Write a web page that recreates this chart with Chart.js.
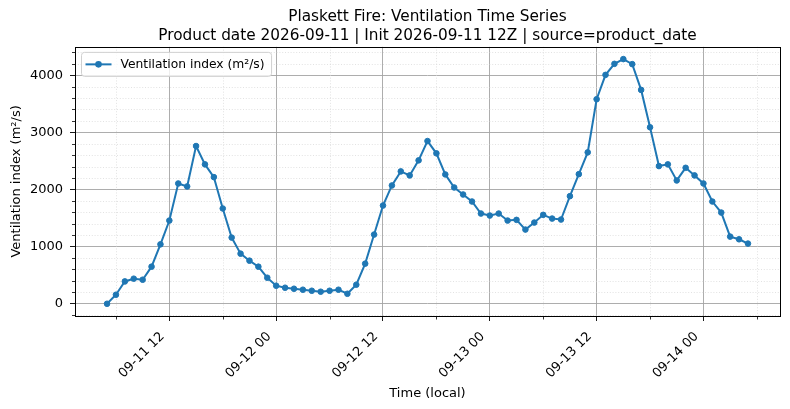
<!DOCTYPE html>
<html>
<head>
<meta charset="utf-8">
<script src="https://cdn.jsdelivr.net/npm/chart.js@4.4.1/dist/chart.umd.min.js"></script>
<style>
  html, body { margin: 0; padding: 0; background: #fff; }
  canvas { display: block; }
</style>
</head>
<body>
<canvas id="ventCanvas" width="790" height="409"></canvas>
<script>
const chartTitle = [
  "Plaskett Fire: Ventilation Time Series",
  "Product date 2026-09-11 | Init 2026-09-11 12Z | source=product_date",
];
const seriesLabel = "Ventilation index (m²/s)";

// hourly values, 09-11 05:00 -> 09-14 05:00 (local)
const ventilation = [
  0, 158, 391, 439, 421, 649, 1040, 1456, 2105, 2053,
  2760, 2439, 2216, 1667, 1158, 877, 754, 649, 456, 316,
  281, 263, 246, 228, 211, 228, 246, 175, 333, 702,
  1211, 1719, 2070, 2316, 2246, 2509, 2847, 2632, 2263, 2035,
  1912, 1789, 1579, 1544, 1579, 1456, 1468, 1298, 1421, 1556,
  1491, 1474, 1883, 2268, 2649, 3579, 4005, 4198, 4281, 4193,
  3742, 3088, 2409, 2439, 2158, 2379, 2246, 2105, 1789, 1596,
  1175, 1128, 1053,
];

// x ticks in hours after the first sample
const majorTickHours = [7, 19, 31, 43, 55, 67];
const majorTickLabels = ["09-11 12", "09-12 00", "09-12 12", "09-13 00", "09-13 12", "09-14 00"];
const minorTickHours = [1, 13, 25, 37, 49, 61, 73];
const yMajorTicks = [0, 1000, 2000, 3000, 4000];
const yMinorStep = 200;

const FONT = "'DejaVu Sans', sans-serif";
const LINE_COLOR = "#1f77b4";

// matplotlib style 5% margins
const xPad = (ventilation.length - 1) * 0.05;
const yLo = Math.min(...ventilation);
const yHi = Math.max(...ventilation);
const yPad = (yHi - yLo) * 0.05;

const points = ventilation.map((v, i) => ({ x: i, y: v }));

const mplFrame = {
  id: "mplFrame",
  beforeDatasetsDraw(chart) {
    const { ctx, chartArea: a, scales: { x, y } } = chart;
    ctx.save();
    ctx.strokeStyle = "#d6d6d6";
    ctx.lineWidth = 0.7;
    ctx.setLineDash([1, 1.8]);
    ctx.beginPath();
    minorTickHours.forEach((h) => {
      const px = Math.round(x.getPixelForValue(h)) + 0.5;
      ctx.moveTo(px, a.top);
      ctx.lineTo(px, a.bottom);
    });
    for (let v = Math.ceil(y.min / yMinorStep) * yMinorStep; v <= y.max; v += yMinorStep) {
      if (yMajorTicks.includes(v)) continue;
      const py = Math.round(y.getPixelForValue(v)) + 0.5;
      ctx.moveTo(a.left, py);
      ctx.lineTo(a.right, py);
    }
    ctx.stroke();
    ctx.restore();
  },
  afterDraw(chart) {
    const { ctx, chartArea: a, scales: { x, y } } = chart;
    ctx.save();
    // minor tick marks
    ctx.strokeStyle = "#000";
    ctx.lineWidth = 0.8;
    ctx.beginPath();
    minorTickHours.forEach((h) => {
      const px = Math.round(x.getPixelForValue(h)) + 0.5;
      ctx.moveTo(px, a.bottom);
      ctx.lineTo(px, a.bottom + 3.5);
    });
    for (let v = Math.ceil(y.min / yMinorStep) * yMinorStep; v <= y.max; v += yMinorStep) {
      if (yMajorTicks.includes(v)) continue;
      const py = Math.round(y.getPixelForValue(v)) + 0.5;
      ctx.moveTo(a.left, py);
      ctx.lineTo(a.left - 3, py);
    }
    ctx.stroke();

    // spines
    ctx.lineWidth = 1;
    ctx.strokeRect(Math.round(a.left) + 0.5, Math.round(a.top) + 0.5,
      Math.round(a.width), Math.round(a.height));

    // legend, upper left
    ctx.font = "12.3px " + FONT;
    const tw = ctx.measureText(seriesLabel).width;
    const lx = a.left + 6.5, ly = a.top + 5.5;
    const w = 39 + tw + 7, h = 24;
    ctx.beginPath();
    ctx.roundRect(lx, ly, w, h, 3);
    ctx.fillStyle = "rgba(255,255,255,0.8)";
    ctx.fill();
    ctx.strokeStyle = "#d0d0d0";
    ctx.stroke();
    const cy = ly + h / 2;
    ctx.strokeStyle = LINE_COLOR;
    ctx.lineWidth = 2;
    ctx.beginPath();
    ctx.moveTo(lx + 4, cy);
    ctx.lineTo(lx + 30, cy);
    ctx.stroke();
    ctx.fillStyle = LINE_COLOR;
    ctx.beginPath();
    ctx.arc(lx + 17, cy, 3.3, 0, Math.PI * 2);
    ctx.fill();
    ctx.fillStyle = "#000";
    ctx.textBaseline = "middle";
    ctx.fillText(seriesLabel, lx + 39, cy + 0.5);
    ctx.restore();
  },
};

const ventChart = new Chart(document.getElementById("ventCanvas"), {
  type: "line",
  data: {
    datasets: [
      {
        label: seriesLabel,
        data: points,
        borderColor: LINE_COLOR,
        backgroundColor: LINE_COLOR,
        borderWidth: 2,
        pointRadius: 2.8,
        pointBorderWidth: 1,
        pointBackgroundColor: LINE_COLOR,
        pointBorderColor: LINE_COLOR,
        tension: 0,
      },
    ],
  },
  options: {
    responsive: false,
    animation: false,
    layout: { padding: { left: 0, right: 10, top: 0, bottom: 0 } },
    plugins: {
      legend: { display: false },
      tooltip: { enabled: false },
      title: {
        display: true,
        fullSize: false,
        text: chartTitle,
        color: "#000",
        font: { family: FONT, size: 15.3, weight: "normal", lineHeight: 1.27 },
        padding: { top: 7, bottom: 1 },
      },
    },
    scales: {
      x: {
        type: "linear",
        min: -xPad,
        max: ventilation.length - 1 + xPad,
        afterBuildTicks: (s) => {
          s.ticks = majorTickHours.map((v) => ({ value: v }));
        },
        afterFit: (s) => {
          s.height = 93;
        },
        border: { display: false },
        grid: { color: "#a4a4a4", lineWidth: 0.9, tickColor: "#000", tickLength: 5 },
        ticks: {
          autoSkip: false,
          minRotation: 45,
          maxRotation: 45,
          padding: 8,
          labelOffset: -7,
          color: "#000",
          font: { family: FONT, size: 13 },
          callback: (value, index) => majorTickLabels[index],
        },
        title: {
          display: true,
          text: "Time (local)",
          color: "#000",
          font: { family: FONT, size: 13 },
          padding: { top: 0, bottom: 8 },
        },
      },
      y: {
        min: yLo - yPad,
        max: yHi + yPad,
        afterBuildTicks: (s) => {
          s.ticks = yMajorTicks.map((v) => ({ value: v }));
        },
        afterFit: (s) => {
          s.width = 75;
        },
        border: { display: false },
        grid: { color: "#a4a4a4", lineWidth: 0.9, tickColor: "#000", tickLength: 5 },
        ticks: {
          padding: 7,
          color: "#000",
          font: { family: FONT, size: 13 },
          callback: (value) => String(value),
        },
        title: {
          display: true,
          text: seriesLabel,
          color: "#000",
          font: { family: FONT, size: 13 },
          padding: { top: 9, bottom: 0 },
        },
      },
    },
  },
  plugins: [mplFrame],
});
</script>
</body>
</html>
